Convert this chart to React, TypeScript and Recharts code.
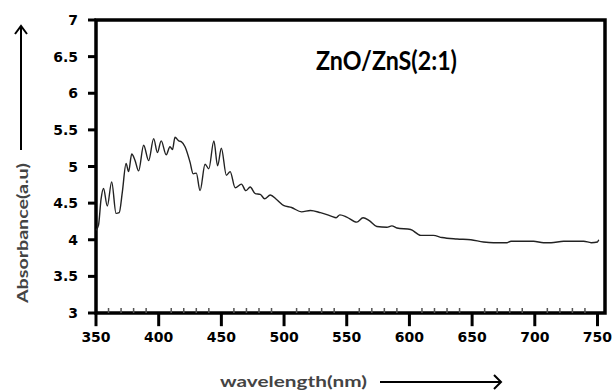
import React from 'react';
import { LineChart, Line, XAxis, YAxis, ReferenceArea, ReferenceLine } from 'recharts';

const wavelengths = [350, 352, 354, 356, 359, 362.5, 366, 368.5, 371, 374, 376, 378.5, 381, 384, 388, 392, 396, 399, 402, 406, 409, 411, 413, 416, 418, 421, 425, 427.5, 430, 433, 437, 440, 444, 447, 450, 454, 457, 461, 466, 469.5, 473, 477, 481, 484.5, 489, 494, 499.5, 506, 514, 521, 529, 538, 541.5, 544.5, 550, 558, 563, 568, 574, 582, 586, 590, 601, 609, 619, 626, 638, 649, 659, 667, 678, 681, 699, 707, 713, 723, 739, 745, 750, 751];
const absorbance = [4.13, 4.2, 4.55, 4.7, 4.46, 4.79, 4.36, 4.37, 4.65, 5.04, 4.93, 5.17, 5.09, 4.94, 5.29, 5.08, 5.38, 5.19, 5.35, 5.16, 5.27, 5.23, 5.4, 5.35, 5.34, 5.27, 5.06, 4.9, 4.91, 4.67, 5.03, 4.97, 5.35, 5.01, 5.25, 4.88, 4.93, 4.71, 4.76, 4.67, 4.72, 4.63, 4.62, 4.56, 4.61, 4.55, 4.47, 4.44, 4.38, 4.4, 4.37, 4.32, 4.3, 4.34, 4.31, 4.24, 4.3, 4.26, 4.18, 4.17, 4.19, 4.16, 4.14, 4.06, 4.06, 4.03, 4.01, 4.0, 3.97, 3.96, 3.96, 3.98, 3.98, 3.96, 3.96, 3.98, 3.98, 3.96, 3.97, 4.0];

const xTicks = [350, 360, 370, 380, 390, 400, 410, 420, 430, 440, 450, 460, 470, 480, 490, 500, 510, 520, 530, 540, 550, 560, 570, 580, 590, 600, 610, 620, 630, 640, 650, 660, 670, 680, 690, 700, 710, 720, 730, 740, 750];
const xMajor = [350, 400, 450, 500, 550, 600, 650, 700, 750];
const yTicks = [3, 3.5, 4, 4.5, 5, 5.5, 6, 6.5, 7];

const title = 'ZnO/ZnS(2:1)';
const xLabel = 'wavelength(nm)';
const yLabel = 'Absorbance(a.u)';

const data = wavelengths.map((w, i) => ({ w, a: absorbance[i] }));

const tickFont = "'DejaVu Sans', Verdana, sans-serif";
const labelFont = "Lato, 'Open Sans', sans-serif";

const XTick = (props: any) => {
  const { x, y, payload } = props;
  const v = payload.value as number;
  const major = v % 50 === 0;
  if (major) {
    return (
      <text x={x} y={y + 29} textAnchor="middle" fontFamily={tickFont} fontWeight={700} fontSize={14} fill="#000">
        {v}
      </text>
    );
  }
  return <rect x={x - 0.75} y={y - 5} width={1.5} height={5} fill="#555" />;
};

const YTick = (props: any) => {
  const { x, y, payload } = props;
  return (
    <text x={x - 10} y={y} dy={5} textAnchor="end" fontFamily={tickFont} fontWeight={700} fontSize={14} fill="#000">
      {payload.value}
    </text>
  );
};

export default function App() {
  return (
    <div style={{ position: 'absolute', left: 0, top: 0, width: 612, height: 392, background: '#fff' }}>
      <LineChart width={612} height={392} data={data} margin={{ top: 20, right: 7, left: 0, bottom: 0 }}>
        <XAxis
          dataKey="w"
          type="number"
          domain={[350, 756]}
          ticks={xTicks}
          interval={0}
          height={79}
          axisLine={false}
          tickLine={false}
          tickSize={0}
          tickMargin={0}
          tick={<XTick />}
        />
        <YAxis
          type="number"
          domain={[3, 7]}
          ticks={yTicks}
          interval={0}
          width={96}
          axisLine={false}
          tickLine={{ stroke: '#000', strokeWidth: 3 }}
          tickSize={8}
          tickMargin={0}
          tick={<YTick />}
        />
        {xMajor.map((t) => (
          <ReferenceLine key={'x' + t} segment={[{ x: t, y: 2.82 }, { x: t, y: 3 }]} stroke="#000" strokeWidth={3} ifOverflow="visible" />
        ))}
        <ReferenceArea x1={350} x2={756} y1={3} y2={7} fill="none" fillOpacity={0} stroke="#000" strokeWidth={3.5} strokeOpacity={1} ifOverflow="visible" />
        <Line type="monotone" dataKey="a" stroke="#222" strokeWidth={1.4} dot={false} isAnimationActive={false} />
      </LineChart>
      <svg width={612} height={392} style={{ position: 'absolute', left: 0, top: 0, pointerEvents: 'none' }}>
        <text x={316} y={70} textLength={141} lengthAdjust="spacingAndGlyphs" fontFamily={labelFont} fontWeight={700} fontSize={27} fill="#000">
          {title}
        </text>
        <text x={28} y={303} transform="rotate(-90 28 303)" textLength={140} lengthAdjust="spacingAndGlyphs" fontFamily={labelFont} fontWeight={700} fontSize={16} fill="#444">
          {yLabel}
        </text>
        <line x1={21} x2={21} y1={150} y2={27} stroke="#000" strokeWidth={2} />
        <polyline points="15,34 21,26 27,34" fill="none" stroke="#000" strokeWidth={2} />
        <text x={220} y={387} textLength={147} lengthAdjust="spacingAndGlyphs" fontFamily={labelFont} fontWeight={700} fontSize={16} fill="#444">
          {xLabel}
        </text>
        <line x1={380} x2={500} y1={382} y2={382} stroke="#000" strokeWidth={2} />
        <polyline points="494,375 501,382 494,389" fill="none" stroke="#000" strokeWidth={2} />
      </svg>
    </div>
  );
}
